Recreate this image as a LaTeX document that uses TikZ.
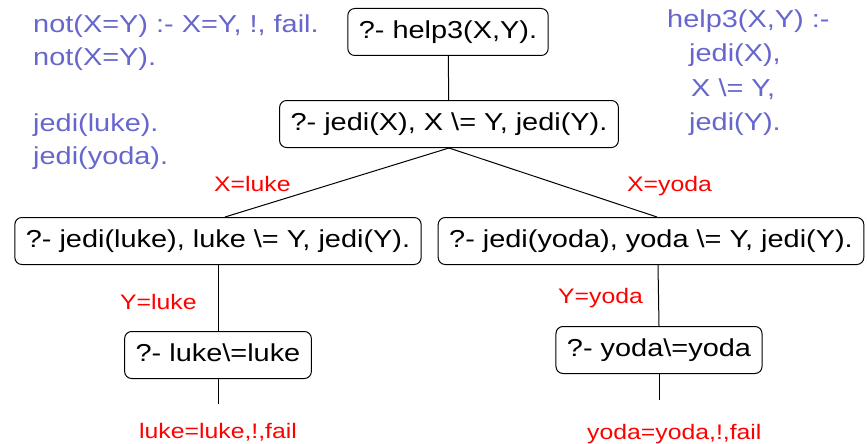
\documentclass[tikz,border=0pt]{standalone}
\usepackage{fontspec}
\setmainfont{Liberation Sans}[FakeStretch=1.18]
\begin{document}
\definecolor{codeblue}{RGB}{102,102,204}
\begin{tikzpicture}[x=1pt,y=-1pt,
  goal/.style={draw=black,line width=1pt,rounded corners=7pt,fill=white,
    font=\fontsize{24.5}{28}\selectfont,text height=18pt,text depth=5pt,
    inner xsep=11pt,inner ysep=12pt},
  edge/.style={line width=1pt,black},
  bind/.style={text=red,font=\fontsize{21}{24}\selectfont,inner sep=0pt,anchor=base west},
  code/.style={text=codeblue,font=\fontsize{24.5}{28}\selectfont,inner sep=0pt,anchor=base west}]
\useasboundingbox (0,0) rectangle (867,444);

% program clauses
\node[code] (c1) at (33,33) {not(X=Y) :- X=Y, !, fail.};
\node[code] (c2) at (33,66) {not(X=Y).};
\node[code] (c3) at (33,131) {jedi(luke).};
\node[code] (c4) at (33,164) {jedi(yoda).};
\node[code] (h1) at (667,28) {help3(X,Y) :-};
\node[code] (h2) at (689,62) {jedi(X),};
\node[code] (h3) at (691,96) {X \textbackslash= Y,};
\node[code] (h4) at (689,130) {jedi(Y).};

% resolution tree
\node[goal] (g0) at (448,32) {?- help3(X,Y).};
\node[goal] (g1) at (449,124) {?- jedi(X), X \textbackslash= Y, jedi(Y).};
\node[goal] (gl) at (218,241) {?- jedi(luke), luke \textbackslash= Y, jedi(Y).};
\node[goal] (gr) at (651,241) {?- jedi(yoda), yoda \textbackslash= Y, jedi(Y).};
\node[goal] (ll) at (218,355) {?- luke\textbackslash=luke};
\node[goal] (yl) at (659,350) {?- yoda\textbackslash=yoda};

\coordinate (le) at (218,404);
\coordinate (ye) at (659,400);

\draw[edge] (g0) -- (g1);
\draw[edge] (g1.south) -- (gl.north -| 225,0);
\draw[edge] (g1.south) -- (gr.north -| 657,0);
\draw[edge] (gl.south) -- (ll.north);
\draw[edge] (gr.south -| 658,0) -- (yl.north);
\draw[edge] (ll.south) -- (le);
\draw[edge] (yl.south) -- (ye);

% bindings
\node[bind] (b1) at (214,191) {X=luke};
\node[bind] (b2) at (627,191) {X=yoda};
\node[bind] (b3) at (120,309) {Y=luke};
\node[bind] (b4) at (558,303) {Y=yoda};
\node[bind] (f1) at (139,438) {luke=luke,!,fail};
\node[bind] (f2) at (587,439) {yoda=yoda,!,fail};
\end{tikzpicture}
\end{document}
